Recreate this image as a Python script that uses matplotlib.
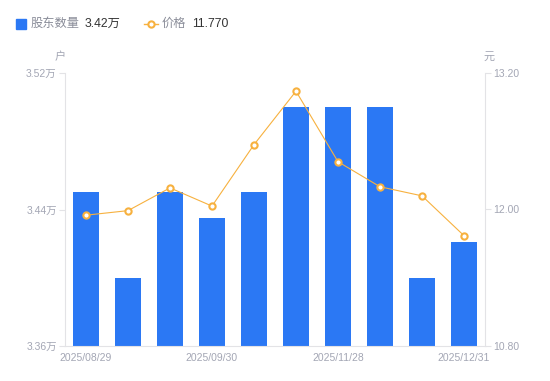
import matplotlib.pyplot as plt
import numpy as np

plt.rcParams['font.family'] = ['Liberation Sans', 'Noto Sans CJK SC', 'DejaVu Sans']

# data
dates = ['2025/08/29', '', '', '2025/09/30', '', '', '2025/11/28', '', '', '2025/12/31']
holders = [3.45, 3.40, 3.45, 3.435, 3.45, 3.50, 3.50, 3.50, 3.40, 3.421]  # 万户
price = [11.95, 11.99, 12.19, 12.03, 12.57, 13.04, 12.42, 12.20, 12.12, 11.77]

blue = '#2b78f4'
orange = '#f7b13f'
gray = '#a3a6b4'
axis_gray = '#e3e3e6'

fig = plt.figure(figsize=(5.5, 3.81), dpi=100)
ax = fig.add_axes([65 / 550, 35 / 381, 420 / 550, 273 / 381])
ax2 = ax.twinx()

x = np.arange(len(dates))
ax.bar(x, holders, width=0.6, color=blue, zorder=2)
ax.set_xlim(-0.5, len(dates) - 0.5)
ax.set_ylim(3.36, 3.52)
ax.set_yticks([3.36, 3.44, 3.52])
ax.set_yticklabels(['3.36万', '3.44万', '3.52万'])

ax2.plot(x, price, color=orange, linewidth=0.8, marker='o', markersize=4.5,
         markerfacecolor='white', markeredgecolor=orange, markeredgewidth=1.5, zorder=3)
ax2.set_ylim(10.8, 13.2)
ax2.set_yticks([10.8, 12.0, 13.2])
ax2.set_yticklabels(['10.80', '12.00', '13.20'])

ax.set_xticks(x)
ax.set_xticklabels(dates)
ax.tick_params(axis='x', length=0, colors=gray, labelsize=7.5, pad=5)
for a in (ax, ax2):
    a.tick_params(axis='y', length=4, width=0.8, color=axis_gray, labelcolor=gray,
                  labelsize=7.5, pad=2)
    for s in a.spines.values():
        s.set_visible(False)
ax.spines['left'].set_visible(True)
ax.spines['bottom'].set_visible(True)
ax2.spines['right'].set_visible(True)
ax.spines['left'].set_color(axis_gray)
ax.spines['bottom'].set_color(axis_gray)
ax2.spines['right'].set_color(axis_gray)

# axis unit labels
fig.text(60 / 550, 1 - 57 / 381, '户', color=gray, fontsize=8, ha='center', va='center')
fig.text(489 / 550, 1 - 57 / 381, '元', color=gray, fontsize=8, ha='center', va='center')

# legend row
ly = 1 - 24 / 381
fig.patches.append(plt.Rectangle((16 / 550, ly - 5 / 381), 10 / 550, 10 / 381,
                                 transform=fig.transFigure, color=blue, figure=fig))
fig.text(31 / 550, ly, '股东数量', color='#8a8d99', fontsize=8.8, va='center')
fig.text(85 / 550, ly, '3.42万', color='#333333', fontsize=8.8, va='center')
fig.add_artist(plt.Line2D([144 / 550, 158 / 550], [ly, ly], color=orange, linewidth=1,
                          transform=fig.transFigure))
fig.add_artist(plt.Line2D([151 / 550], [ly], marker='o', markersize=4.5, color=orange,
                          markerfacecolor='white', markeredgewidth=1.5,
                          transform=fig.transFigure))
fig.text(162 / 550, ly, '价格', color='#8a8d99', fontsize=8.8, va='center')
fig.text(192 / 550, ly, '11.770', color='#333333', fontsize=8.8, va='center')

fig.savefig('out.png', dpi=100)
